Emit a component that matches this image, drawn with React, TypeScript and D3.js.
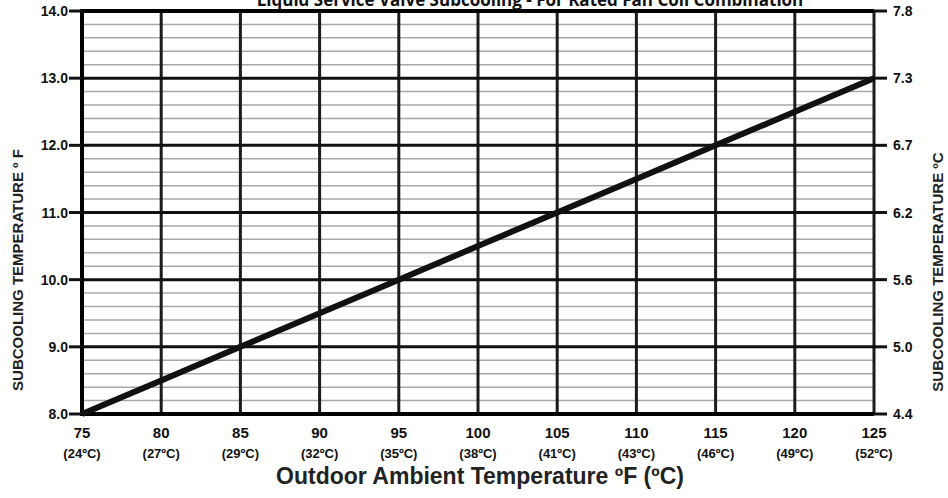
import React, { useRef, useEffect } from "react";
import * as d3 from "d3";

// outdoor ambient temperature (F) and subcooling (F)
const ambientF = [75, 80, 85, 90, 95, 100, 105, 110, 115, 120, 125];
const ambientC = ["(24ºC)", "(27ºC)", "(29ºC)", "(32ºC)", "(35ºC)", "(38ºC)", "(41ºC)", "(43ºC)", "(46ºC)", "(49ºC)", "(52ºC)"];
const subcoolF = [8.0, 8.5, 9.0, 9.5, 10.0, 10.5, 11.0, 11.5, 12.0, 12.5, 13.0];
const leftTicks = [8, 9, 10, 11, 12, 13, 14];
const rightTickLabels = ["4.4", "5.0", "5.6", "6.2", "6.7", "7.3", "7.8"];
const minorTicks = d3.range(8, 14.001, 0.2).filter((v) => Math.abs(v - Math.round(v)) > 0.01);

const W = 948;
const H = 498;
const margin = { top: 11, right: 74, bottom: 84, left: 82 };
const font = "'Liberation Sans', Arial, sans-serif";

export default function App() {
  const svgRef = useRef<SVGSVGElement>(null);

  useEffect(() => {
    const svg = d3.select(svgRef.current);
    svg.selectAll("*").remove();

    const x = d3.scaleLinear().domain([75, 125]).range([margin.left, W - margin.right]);
    const y = d3.scaleLinear().domain([8, 14]).range([H - margin.bottom, margin.top]);

    // minor horizontal grid
    svg.append("g")
      .selectAll("line")
      .data(minorTicks)
      .join("line")
      .attr("x1", x(75))
      .attr("x2", x(125))
      .attr("y1", (d) => y(d))
      .attr("y2", (d) => y(d))
      .attr("stroke", "#a8a8a8")
      .attr("stroke-width", 1.5);

    // vertical grid
    svg.append("g")
      .selectAll("line")
      .data(ambientF)
      .join("line")
      .attr("x1", (d) => x(d))
      .attr("x2", (d) => x(d))
      .attr("y1", y(14))
      .attr("y2", y(8))
      .attr("stroke", "#1c1c1c")
      .attr("stroke-width", 3);

    // major horizontal grid
    svg.append("g")
      .selectAll("line")
      .data(leftTicks)
      .join("line")
      .attr("x1", x(75))
      .attr("x2", x(125))
      .attr("y1", (d) => y(d))
      .attr("y2", (d) => y(d))
      .attr("stroke", "#111")
      .attr("stroke-width", 3);

    // frame: left, top, bottom a bit heavier
    svg.append("line").attr("x1", x(75)).attr("x2", x(75)).attr("y1", y(14) - 2).attr("y2", y(8) + 2)
      .attr("stroke", "#000").attr("stroke-width", 4);
    svg.append("line").attr("x1", x(75)).attr("x2", x(125)).attr("y1", y(14)).attr("y2", y(14))
      .attr("stroke", "#000").attr("stroke-width", 4);
    svg.append("line").attr("x1", x(75)).attr("x2", x(125)).attr("y1", y(8)).attr("y2", y(8))
      .attr("stroke", "#000").attr("stroke-width", 4);

    // left ticks + labels
    const lt = svg.append("g");
    lt.selectAll("line")
      .data(leftTicks)
      .join("line")
      .attr("x1", x(75) - 13)
      .attr("x2", x(75))
      .attr("y1", (d) => y(d))
      .attr("y2", (d) => y(d))
      .attr("stroke", "#111")
      .attr("stroke-width", 3);
    lt.selectAll("text")
      .data(leftTicks)
      .join("text")
      .attr("x", x(75) - 14)
      .attr("y", (d) => y(d) + 5)
      .attr("text-anchor", "end")
      .attr("font-family", font)
      .attr("font-weight", "bold")
      .attr("font-size", 14)
      .attr("fill", "#111")
      .text((d) => d3.format(".1f")(d));

    // right ticks + celsius labels
    const rt = svg.append("g");
    rt.selectAll("line")
      .data(leftTicks)
      .join("line")
      .attr("x1", x(125))
      .attr("x2", x(125) + 13)
      .attr("y1", (d) => y(d))
      .attr("y2", (d) => y(d))
      .attr("stroke", "#111")
      .attr("stroke-width", 3);
    rt.selectAll("text")
      .data(leftTicks)
      .join("text")
      .attr("x", x(125) + 19)
      .attr("y", (d) => y(d) + 5)
      .attr("font-family", font)
      .attr("font-weight", "bold")
      .attr("font-size", 14)
      .attr("fill", "#111")
      .text((d, i) => rightTickLabels[i]);

    // bottom tick labels
    const bt = svg.append("g");
    bt.selectAll("text.f")
      .data(ambientF)
      .join("text")
      .attr("class", "f")
      .attr("x", (d) => x(d))
      .attr("y", y(8) + 24)
      .attr("text-anchor", "middle")
      .attr("font-family", font)
      .attr("font-weight", "bold")
      .attr("font-size", 15)
      .attr("fill", "#111")
      .text((d) => d);
    bt.selectAll("text.c")
      .data(ambientF)
      .join("text")
      .attr("class", "c")
      .attr("x", (d) => x(d))
      .attr("y", y(8) + 44)
      .attr("text-anchor", "middle")
      .attr("font-family", font)
      .attr("font-weight", "bold")
      .attr("font-size", 13)
      .attr("fill", "#111")
      .text((d, i) => ambientC[i]);

    // data line
    const line = d3
      .line<number>()
      .x((d, i) => x(ambientF[i]))
      .y((d) => y(d));
    svg.append("path")
      .datum(subcoolF)
      .attr("d", line)
      .attr("fill", "none")
      .attr("stroke", "#111")
      .attr("stroke-width", 6);

    // titles
    svg.append("text")
      .attr("x", 530)
      .attr("y", 6)
      .attr("text-anchor", "middle")
      .attr("font-family", "'Open Sans', sans-serif")
      .attr("font-weight", "bold")
      .attr("font-size", 17)
      .attr("fill", "#111")
      .text("Liquid Service Valve Subcooling - For Rated Fan Coil Combination");

    svg.append("text")
      .attr("x", 480)
      .attr("y", 484)
      .attr("text-anchor", "middle")
      .attr("font-family", font)
      .attr("font-weight", "bold")
      .attr("font-size", 23)
      .attr("fill", "#222")
      .text("Outdoor Ambient Temperature ºF (ºC)");

    svg.append("text")
      .attr("transform", "translate(23,270) rotate(-90)")
      .attr("text-anchor", "middle")
      .attr("font-family", font)
      .attr("font-weight", "bold")
      .attr("font-size", 15)
      .attr("fill", "#222")
      .text("SUBCOOLING TEMPERATURE º F");

    svg.append("text")
      .attr("transform", "translate(943,272) rotate(-90)")
      .attr("text-anchor", "middle")
      .attr("font-family", font)
      .attr("font-weight", "bold")
      .attr("font-size", 15)
      .attr("fill", "#222")
      .text("SUBCOOLING TEMPERATURE ºC");
  }, []);

  return (
    <svg
      ref={svgRef}
      width={W}
      height={H}
      style={{ position: "absolute", left: 0, top: 0, background: "#fff" }}
    />
  );
}
